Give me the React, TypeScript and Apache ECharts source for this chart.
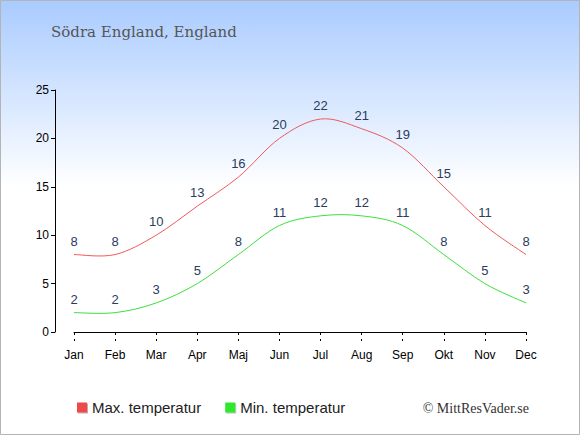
import React, { useEffect, useRef } from "react";
import * as echarts from "echarts";

const months = ["Jan", "Feb", "Mar", "Apr", "Maj", "Jun", "Jul", "Aug", "Sep", "Okt", "Nov", "Dec"];
const maxTemp = [8, 8, 10, 13, 16, 20, 22, 21, 19, 15, 11, 8];
const minTemp = [2, 2, 3, 5, 8, 11, 12, 12, 11, 8, 5, 3];
const seriesNames = ["Max. temperatur", "Min. temperatur"];
const titleText = "Södra England, England";
const creditText = "© MittResVader.se";

function splineSeries(name: string, values: number[], stroke: string) {
  return {
    name,
    type: "custom",
    coordinateSystem: "cartesian2d",
    silent: true,
    z: 3,
    data: values.map((v, i) => [i, v]),
    renderItem: (params: any, api: any) => {
      const i = params.dataIndex;
      const n = values.length;
      if (i >= n - 1) return null;
      const pt = (k: number) => {
        const kk = Math.max(0, Math.min(n - 1, k));
        return api.coord([kk, values[kk]]);
      };
      const p0 = pt(i - 1);
      const p1 = pt(i);
      const p2 = pt(i + 1);
      const p3 = pt(i + 2);
      return {
        type: "bezierCurve",
        shape: {
          x1: p1[0],
          y1: p1[1],
          x2: p2[0],
          y2: p2[1],
          cpx1: p1[0] + (p2[0] - p0[0]) / 6,
          cpy1: p1[1] + (p2[1] - p0[1]) / 6,
          cpx2: p2[0] - (p3[0] - p1[0]) / 6,
          cpy2: p2[1] - (p3[1] - p1[1]) / 6,
        },
        style: { stroke, fill: null, lineWidth: 1 },
      };
    },
  };
}

export default function App() {
  const ref = useRef<HTMLDivElement>(null);
  useEffect(() => {
    document.body.style.margin = "0";
    const chart = echarts.init(ref.current!, null, { renderer: "svg" });
    const labelStyle = {
      show: true,
      position: "top" as const,
      distance: 7,
      fontSize: 13,
      fontFamily: "Liberation Sans, Arial, sans-serif",
      color: "#2a3b5e",
    };
    chart.setOption({
      animation: false,
      backgroundColor: new echarts.graphic.LinearGradient(0, 0, 0, 1, [
        { offset: 0, color: "#a9cbff" },
        { offset: 0.43, color: "#ffffff" },
        { offset: 1, color: "#ffffff" },
      ]),
      graphic: [
        {
          type: "rect",
          shape: { x: 0.5, y: 0.5, width: 579, height: 434 },
          style: { fill: "none", stroke: "#b4b4b4", lineWidth: 1 },
          silent: true,
        },
        {
          type: "text",
          x: 51,
          y: 32,
          style: {
            text: titleText,
            fill: "#555555",
            fontSize: 15,
            fontFamily: "DejaVu Serif, Georgia, serif",
            verticalAlign: "middle",
            align: "left",
          },
        },
        {
          type: "text",
          x: 529,
          y: 408,
          style: {
            text: creditText,
            fill: "#333333",
            fontSize: 14,
            fontFamily: "Liberation Serif, Times New Roman, serif",
            verticalAlign: "middle",
            align: "right",
          },
        },
      ],
      legend: {
        left: 77,
        top: 400,
        padding: 0,
        icon: "rect",
        itemWidth: 10,
        itemHeight: 10,
        itemGap: 24,
        textStyle: { fontSize: 15, color: "#222", fontFamily: "Liberation Sans, Arial, sans-serif" },
        data: [
          {
            name: seriesNames[0],
            itemStyle: { color: "#f04848", shadowColor: "rgba(0,0,0,0.3)", shadowOffsetX: 1, shadowOffsetY: 1, shadowBlur: 1 },
          },
          {
            name: seriesNames[1],
            itemStyle: { color: "#2ee82e", shadowColor: "rgba(0,0,0,0.3)", shadowOffsetX: 1, shadowOffsetY: 1, shadowBlur: 1 },
          },
        ],
      },
      grid: { left: 74, right: 54, top: 90, bottom: 103, containLabel: false },
      xAxis: [
        {
          type: "category",
          data: months,
          boundaryGap: false,
          offset: 9,
          axisLine: { lineStyle: { color: "#000", width: 1 } },
          axisTick: { show: true, length: 3, lineStyle: { color: "#000" } },
          axisLabel: { color: "#000", fontSize: 12, margin: 8, fontFamily: "Liberation Sans, Arial, sans-serif" },
          splitLine: { show: false },
        },
        {
          type: "category",
          data: months,
          boundaryGap: false,
          position: "bottom",
          offset: 9,
          axisLine: { show: false },
          axisTick: { show: true, inside: true, length: 2, lineStyle: { color: "#000" } },
          axisLabel: { show: false },
          splitLine: { show: false },
        },
      ],
      yAxis: {
        type: "value",
        min: 0,
        max: 25,
        interval: 5,
        offset: 19,
        axisLine: { show: true, lineStyle: { color: "#000", width: 1 } },
        axisTick: { show: true, length: 4, lineStyle: { color: "#000" } },
        axisLabel: { color: "#000", fontSize: 12, margin: 6, fontFamily: "Liberation Sans, Arial, sans-serif" },
        splitLine: { show: false },
      },
      series: [
        {
          name: seriesNames[0],
          type: "line",
          data: maxTemp,
          symbol: "circle",
          symbolSize: 0,
          color: "#f04848",
          lineStyle: { opacity: 0, width: 0 },
          label: labelStyle,
        },
        {
          name: seriesNames[1],
          type: "line",
          data: minTemp,
          symbol: "circle",
          symbolSize: 0,
          color: "#2ee82e",
          lineStyle: { opacity: 0, width: 0 },
          label: labelStyle,
        },
        splineSeries("maxCurve", maxTemp, "#f05a5a"),
        splineSeries("minCurve", minTemp, "#3ddf3d"),
      ],
    });
    return () => chart.dispose();
  }, []);
  return <div ref={ref} style={{ width: 580, height: 435 }} />;
}
